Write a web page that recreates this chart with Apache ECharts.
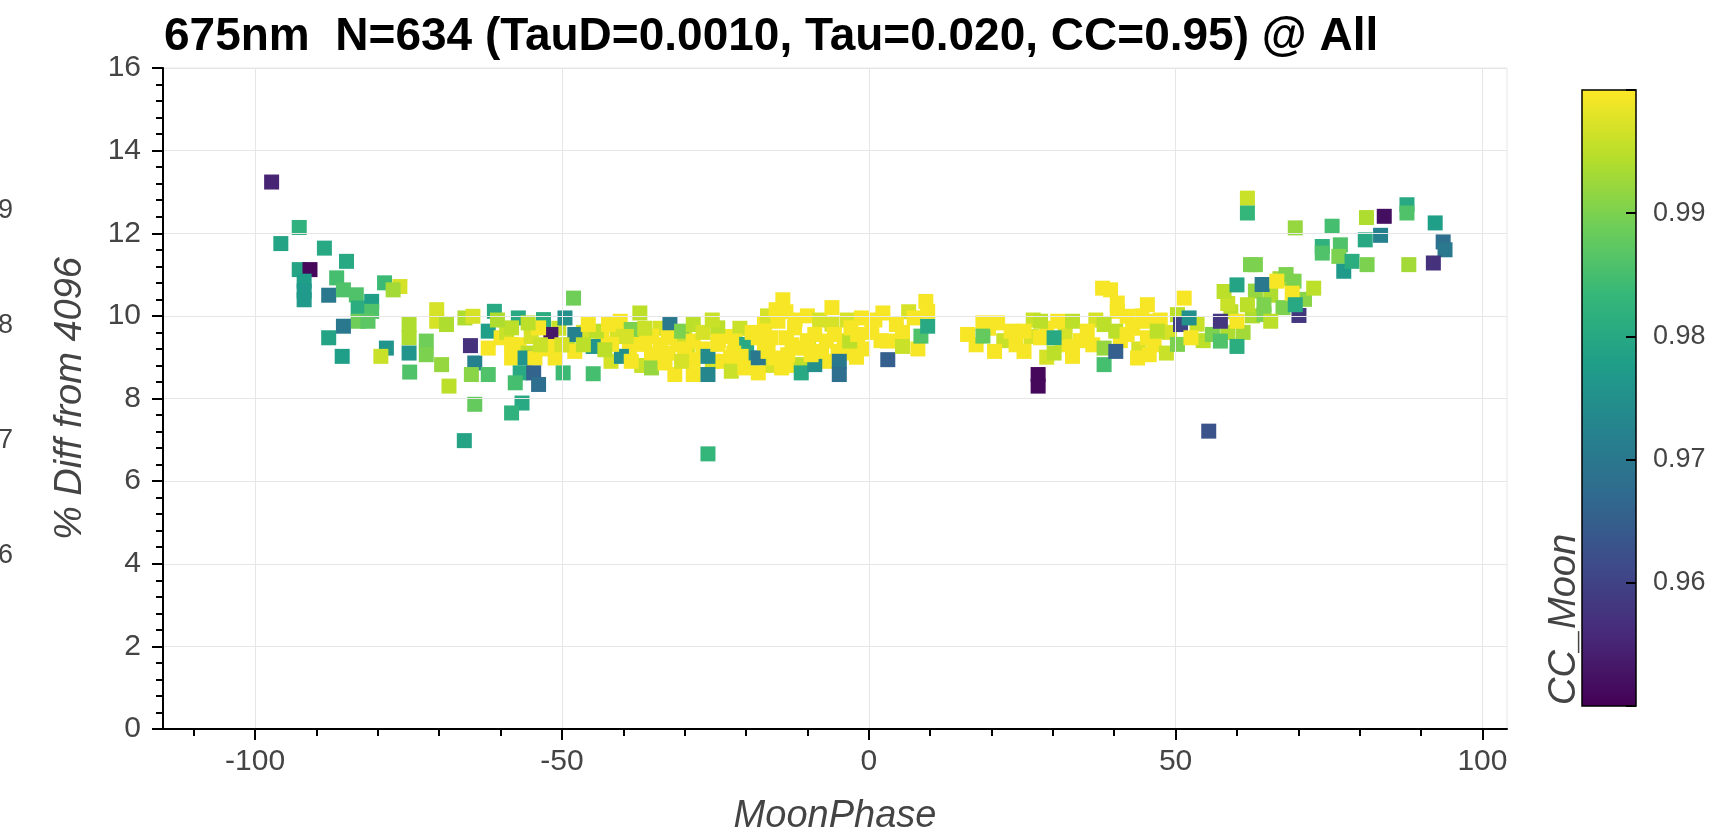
<!DOCTYPE html>
<html>
<head>
<meta charset="utf-8">
<script src="https://cdn.jsdelivr.net/npm/echarts@6/dist/echarts.min.js"></script>
<style>
html,body{margin:0;padding:0;background:#fff;}
#chart{width:1726px;height:840px;}
</style>
</head>
<body>
<div id="chart"></div>
<script>
// ---- Data ----
const chartTitle = '675nm  N=634 (TauD=0.0010, Tau=0.020, CC=0.95) @ All';
const xAxisName = 'MoonPhase';
const yAxisName = '% Diff from 4096';
const colorName = 'CC_Moon';

const xMajorTicks = [-100, -50, 0, 50, 100];
const xMinorTicks = [-110, -90, -80, -70, -60, -40, -30, -20, -10, 10, 20, 30, 40, 60, 70, 80, 90];
const ccRange = [0.95, 1.0];
const ccTickLabels = ['0.96', '0.97', '0.98', '0.99'];
const leftCutLabels = ['0.99', '0.98', '0.97', '0.96'];

const moonPhase = [
  -97.3,-92.8,-95.8,-88.7,-85.1,-92.8,-91.05,-92.0,-92.0,-92.0,-86.7,-88.0,-85.6,-83.5,-83.2,-81.0,-81.0,-83.2,-81.6,-85.6,
  -88.0,-85.8,-78.9,-76.4,-77.5,-78.6,-79.5,-74.9,-74.9,-74.9,-74.8,-72.1,-72.1,-70.4,-70.4,-68.8,-69.6,-68.4,-65.8,-64.5,
  -64.9,-64.2,-64.75,-62.0,-62.0,-61.0,-62.0,-64.2,-65.9,-59.9,
  -59,-57,-55,-52.5,-50.5,-49,-46.5,-55.5,
  -43.5,-41,-39,-36.5,-34,-33.5,-31,-29.5,-27,-25.5,-23,-21,-22.5,-37,-42,-30,
  -48.1,-57.1,-53.0,-49.5,-51.8,-53.8,-55.5,-58.2,-58.2,-58.2,-56.0,-54.4,-51.1,-51.7,-47.9,-47.9,-56.8,-57.6,-56.5,-58.2,
  -54.6,-53.8,-49.8,-44.9,-44.9,-44.4,-42.4,-40.5,-40.3,-41.9,-38.7,-37.3,-37.6,-35.4,-35.4,-35.4,-32.4,-32.7,-32.7,-31.6,
  -30.5,-28.6,-28.6,-28.6,-28.6,-26.2,-26.2,-26.2,-24.6,-24.6,-23.7,-22.4,-21.8,-19.9,-19.1,-20.8,-24.5,-20.2,-38.7,-33.2,
  -45.7,-43.0,
  -30.0,-27.0,-22.0,-36.5,-39.5,-34.0,-30.5,-25.5,-17.0,-10.0,-6.0,-3.0,-9.8,-12.5,-1.0,0.5,-46.5,-50.0,-53.5,-60.5,
  -19,-17,-16,-13,-12,-10,-8,-7,-4,-3.5,-2,-6,-13.5,-16.5,
  1,2,5.5,6.5,8,17.5,19.5,22,
  -14.0,-15.1,-14.8,-18.0,-18.0,-18.0,-15.9,-15.3,-14.2,-13.4,-12.1,-11.0,-11.0,-11.0,-8.8,-8.8,-6.9,-5.6,-5.0,-4.8,
  -4.8,-3.1,-1.8,-1.2,2.3,3.1,3.1,4.5,5.5,7.4,8.5,9.3,9.6,9.6,16.1,18.6,18.6,20.5,21.0,-16.4,
  -13.2,-9.4,-7.7,-2.9,
  24,26.5,29,31.5,32,34.5,26.8,29,36.5,37,41,43,44,46.5,47.5,48.5,44.5,49,
  53.5,54.5,58.5,59,61,62.5,58.5,63,65.5,67.5,67,71,68,
  23.2,25.3,25.3,28.0,28.0,30.2,30.2,30.8,33.2,33.2,33.2,27.6,27.6,39.4,40.5,40.5,38.35,38.35,38.35,40.25,
  40.25,42.1,45.4,45.4,45.4,45.7,47.0,50.3,51.4,50.8,50.3,52.2,52.5,55.4,56.0,57.3,57.9,60.0,60.0,60.0,
  61.7,61.7,61.7,62.2,35.6,38.1,42.1,43.8,57.3,
  70.1,69.5,63.0,64.1,66.5,69.3,69.0,72.5,64.4,64.4,65.5,69.5,73.9,73.9,75.5,76.85,76.6,77.4,78.75,81.2,
  80.9,81.1,84.0,83.4,87.7,87.7,88.0,92.3,93.6,93.9,92.0
];
const pctDiff = [
  13.24,12.14,11.75,11.64,11.32,11.12,11.12,10.84,10.60,10.39,10.92,10.50,10.63,10.51,10.19,10.35,10.11,9.87,9.87,9.75,
  9.47,9.02,10.80,10.71,10.63,9.22,9.02,9.79,9.47,9.10,8.64,9.39,9.06,10.15,9.87,9.79,8.82,8.30,9.95,9.99,
  9.28,8.86,8.58,8.58,9.63,10.11,9.22,7.86,6.98,9.47,
  9.6,9.3,9.5,9.2,9.7,9.3,9.6,9.1,
  9.5,9.6,9.2,9.4,9.7,9.0,9.3,9.1,9.2,8.9,9.5,9.7,9.0,8.8,8.9,9.5,
  10.43,9.95,9.91,9.95,9.55,9.71,9.83,9.71,9.31,8.98,8.98,8.98,8.98,9.26,9.55,9.14,8.62,8.38,7.89,7.65,
  8.62,8.34,8.62,8.60,9.26,9.63,9.79,9.87,9.02,9.31,9.67,10.07,9.31,9.51,9.06,8.74,9.79,9.47,9.10,8.58,
  9.63,9.79,9.39,8.94,8.58,9.02,8.58,6.66,9.71,9.31,8.90,8.66,9.39,9.31,8.98,9.02,9.39,8.74,8.90,8.86,
  9.79,9.18,
  9.2,9.6,9.1,9.7,9.5,9.3,8.9,9.9,9.8,10.0,9.8,9.1,9.3,9.3,9.2,9.6,9.3,9.3,9.3,9.9,
  9.6,9.3,8.8,8.8,9.9,9.4,9.9,8.9,9.4,9.9,9.0,10.2,10.1,10.0,
  9.9,9.4,9.6,10.1,9.2,9.3,9.7,9.4,
  10.39,10.15,9.87,9.47,8.98,8.62,9.47,8.98,8.74,9.47,9.71,9.22,8.82,8.62,9.55,8.82,9.39,9.55,9.14,8.90,
  8.58,9.39,9.55,9.95,10.07,8.94,9.39,9.79,9.26,9.95,9.51,10.35,9.75,10.11,9.55,9.83,9.51,9.14,9.83,9.14,
  9.06,9.06,9.14,9.71,
  9.3,9.5,9.7,9.3,9.6,9.4,9.9,9.0,9.3,9.9,9.4,9.7,9.2,9.3,9.9,9.1,10.0,9.6,
  9.8,9.4,9.6,10.1,9.6,10.0,10.3,10.6,10.5,10.2,10.9,10.4,11.0,
  9.63,9.63,9.14,9.87,9.47,9.47,9.10,9.87,9.87,9.26,9.02,8.58,8.30,10.63,10.31,10.11,9.79,9.22,8.82,9.14,
  9.63,9.55,10.27,9.87,9.47,9.06,9.63,10.03,10.43,9.79,9.31,9.95,9.47,7.21,9.55,9.87,10.59,10.75,9.26,9.87,
  10.27,12.85,12.49,11.24,9.63,10.67,9.99,8.98,9.39,
  10.01,12.13,11.24,10.76,10.84,10.84,10.55,10.67,10.27,10.03,9.87,10.27,11.68,11.52,12.17,11.72,11.44,11.08,11.32,11.24,
  11.84,12.38,12.41,11.95,12.69,12.49,11.24,12.25,11.79,11.60,11.28
];
const ccMoon = [
  0.955,0.982,0.979,0.980,0.980,0.979,0.951,0.978,0.977,0.977,0.985,0.970,0.986,0.986,0.981,0.978,0.986,0.989,0.987,0.970,
  0.979,0.978,0.984,0.997,0.993,0.976,0.996,0.994,0.994,0.976,0.986,0.989,0.990,0.997,0.997,0.994,0.992,0.995,0.994,0.997,
  0.957,0.972,0.991,0.986,0.978,0.980,0.9995,0.988,0.979,0.9995,
  0.996,0.9995,0.997,0.9995,0.996,0.995,0.997,0.995,
  0.9995,0.997,0.9995,0.9995,0.997,0.9995,0.9995,0.997,0.9995,0.997,0.9995,0.996,0.9995,0.996,0.997,0.996,
  0.989,0.980,0.981,0.975,0.953,0.9995,0.995,0.995,0.9995,0.9995,0.976,0.9995,0.9995,0.9995,0.972,0.9995,0.980,0.985,0.980,0.982,
  0.966,0.968,0.984,0.985,0.976,0.995,0.9995,0.9995,0.975,0.9995,0.990,0.995,0.9995,0.9995,0.9995,0.992,0.970,0.9995,0.9995,0.9995,
  0.990,0.995,0.9995,0.9995,0.9995,0.974,0.973,0.983,0.995,0.9995,0.9995,0.996,0.9995,0.980,0.975,0.9995,0.9995,0.9995,0.9995,0.9995,
  0.9995,0.995,
  0.9995,0.997,0.9995,0.996,0.997,0.9995,0.997,0.996,0.9995,0.9995,0.997,0.9995,0.997,0.9995,0.9995,0.9995,0.995,0.997,0.996,0.994,
  0.9995,0.9995,0.997,0.9995,0.9995,0.9995,0.997,0.9995,0.9995,0.997,0.9995,0.9995,0.9995,0.997,
  0.9995,0.9995,0.9995,0.997,0.9995,0.9995,0.9995,0.996,
  0.9995,0.9995,0.9995,0.9995,0.970,0.9995,0.9995,0.9995,0.9995,0.9995,0.9995,0.9995,0.995,0.980,0.9995,0.975,0.9995,0.9995,0.9995,0.970,
  0.968,0.995,0.9995,0.9995,0.9995,0.965,0.9995,0.9995,0.996,0.9995,0.986,0.9995,0.980,0.9995,0.9995,0.9995,0.988,0.9995,0.9995,0.9995,
  0.9995,0.9995,0.9995,0.9995,
  0.9995,0.997,0.9995,0.9995,0.997,0.9995,0.996,0.997,0.9995,0.997,0.9995,0.9995,0.997,0.9995,0.9995,0.996,0.9995,0.997,
  0.996,0.995,0.994,0.995,0.993,0.994,0.996,0.992,0.994,0.990,0.993,0.991,0.990,
  0.9995,0.9995,0.9995,0.995,0.9995,0.980,0.995,0.9995,0.995,0.9995,0.9995,0.951,0.951,0.9995,0.9995,0.9995,0.995,0.992,0.985,0.965,
  0.995,0.9995,0.9995,0.9995,0.9995,0.9995,0.995,0.995,0.9995,0.960,0.990,0.975,0.9995,0.963,0.990,0.958,0.995,0.979,0.981,0.9995,
  0.995,0.996,0.983,0.990,0.9995,0.9995,0.9995,0.9995,0.986,
  0.958,0.992,0.990,0.970,0.9995,0.990,0.9995,0.995,0.990,0.990,0.995,0.980,0.982,0.986,0.985,0.986,0.990,0.977,0.981,0.990,
  0.980,0.994,0.952,0.972,0.980,0.986,0.993,0.978,0.968,0.970,0.957
];

const viridis = ['#440154','#482878','#3e4989','#31688e','#26828e','#1f9e89','#35b779','#6ece58','#b5de2b','#fde725'];

const points = moonPhase.map((x, i) => [x, pctDiff[i], ccMoon[i]]);

const FONT = 'Liberation Sans';
const chart = echarts.init(document.getElementById('chart'), null, {renderer: 'canvas'});

const gradientStops = viridis.map((c, i) => ({offset: i / (viridis.length - 1), color: c}));

chart.setOption({
  backgroundColor: '#ffffff',
  animation: false,
  title: {
    text: chartTitle,
    left: 159,
    top: 9,
    textStyle: {fontFamily: FONT, fontSize: 46, fontWeight: 'bold', color: '#000'}
  },
  grid: [
    {left: 163, top: 68, right: 219, bottom: 111, show: true, borderColor: '#e6e6e6', borderWidth: 1, backgroundColor: 'transparent'},
    {left: 1582, top: 90, width: 54, height: 616, show: true, borderColor: '#000', borderWidth: 1.5, backgroundColor: 'transparent', z: 10}
  ],
  xAxis: [
    {
      gridIndex: 0, type: 'value', min: -115, max: 104,
      name: xAxisName, nameLocation: 'middle', nameGap: 68,
      nameTextStyle: {fontFamily: FONT, fontSize: 38, fontStyle: 'italic', color: '#444'},
      axisLine: {show: true, onZero: false, lineStyle: {color: '#000', width: 2}},
      axisTick: {show: true, length: 11, customValues: xMajorTicks, lineStyle: {color: '#000', width: 2}},
      axisLabel: {show: true, customValues: xMajorTicks, margin: 18,
                  fontFamily: FONT, fontSize: 30, color: '#444'},
      splitLine: {show: true, lineStyle: {color: '#e6e6e6', width: 1}},
      z: 5
    },
    {
      gridIndex: 0, type: 'value', min: -115, max: 104, position: 'bottom',
      axisLine: {show: false},
      axisTick: {show: true, length: 7, customValues: xMinorTicks, lineStyle: {color: '#000', width: 2}},
      axisLabel: {show: false},
      splitLine: {show: false},
      z: 5
    },
    {gridIndex: 1, type: 'value', min: 0, max: 1, show: false}
  ],
  yAxis: [
    {
      gridIndex: 0, type: 'value', min: 0, max: 16, interval: 2,
      name: yAxisName, nameLocation: 'middle', nameGap: 74, nameRotate: 90,
      nameTextStyle: {fontFamily: FONT, fontSize: 38, fontStyle: 'italic', color: '#444'},
      axisLine: {show: true, onZero: false, lineStyle: {color: '#000', width: 2}},
      axisTick: {show: true, length: 11, lineStyle: {color: '#000', width: 2}},
      minorTick: {show: true, splitNumber: 5, length: 7, lineStyle: {color: '#000', width: 2}},
      axisLabel: {margin: 22, fontFamily: FONT, fontSize: 30, color: '#444'},
      splitLine: {show: true, lineStyle: {color: '#e6e6e6', width: 1}},
      z: 5
    },
    {
      gridIndex: 1, type: 'value', min: ccRange[0], max: ccRange[1], interval: 0.01, position: 'right',
      axisLine: {show: false, onZero: false},
      axisTick: {show: true, inside: true, length: 10, lineStyle: {color: '#000', width: 2}},
      axisLabel: {
        margin: 17, fontFamily: FONT, fontSize: 27, color: '#444',
        formatter: v => { const s = v.toFixed(2); return ccTickLabels.indexOf(s) >= 0 ? s : ''; }
      },
      splitLine: {show: false},
      z: 10
    }
  ],
  visualMap: {
    type: 'continuous', min: ccRange[0], max: ccRange[1], dimension: 2, seriesIndex: 0,
    show: false, inRange: {color: viridis}
  },
  series: [
    {
      type: 'scatter', xAxisIndex: 0, yAxisIndex: 0,
      symbol: 'rect', symbolSize: 15,
      data: points,
      itemStyle: {opacity: 1},
      silent: true,
      z: 3
    },
    {
      type: 'custom', xAxisIndex: 2, yAxisIndex: 1, silent: true, z: 2,
      data: [[0, ccRange[0], ccRange[1]]],
      renderItem: (params, api) => {
        const pTop = api.coord([0, api.value(2)]);
        const pBot = api.coord([1, api.value(1)]);
        return {
          type: 'rect',
          shape: {x: pTop[0], y: pTop[1], width: pBot[0] - pTop[0], height: pBot[1] - pTop[1]},
          style: {fill: new echarts.graphic.LinearGradient(0, 1, 0, 0, gradientStops)}
        };
      }
    }
  ],
  graphic: [
    {type: 'text', x: 1564, y: 705, rotation: Math.PI / 2,
     style: {text: colorName, font: 'italic 38px "Liberation Sans"', fill: '#444', align: 'left', verticalAlign: 'middle'}},
  ].concat(leftCutLabels.map((t, i) => ({
    type: 'text', x: 13, y: [211, 326, 441, 556][i],
    style: {text: t, font: '27px "Liberation Sans"', fill: '#444', align: 'right', verticalAlign: 'middle'}
  })))
});
</script>
</body>
</html>
